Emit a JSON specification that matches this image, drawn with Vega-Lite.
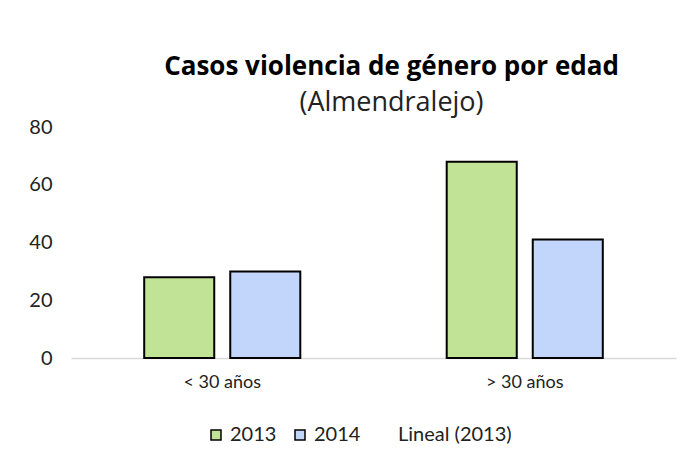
{
  "$schema": "https://vega.github.io/schema/vega-lite/v6.json",
  "width": 605,
  "height": 231,
  "autosize": {"type": "none"},
  "padding": {"left": 71, "top": 127, "right": 16, "bottom": 108},
  "background": "white",
  "config": {
    "view": {"stroke": null},
    "font": "Lato"
  },
  "title": {
    "text": "Casos violencia de género por edad",
    "subtitle": "(Almendralejo)",
    "font": "Open Sans",
    "fontSize": 26,
    "fontWeight": "bold",
    "color": "#000000",
    "subtitleFont": "Open Sans",
    "subtitleFontSize": 27,
    "subtitleFontWeight": "normal",
    "subtitleColor": "#222222",
    "subtitlePadding": 10,
    "anchor": "middle",
    "dx": 18,
    "offset": 1
  },
  "data": {
    "values": [
      {"grupo": "< 30 años", "anio": "2013", "casos": 28},
      {"grupo": "< 30 años", "anio": "2014", "casos": 30},
      {"grupo": "> 30 años", "anio": "2013", "casos": 68},
      {"grupo": "> 30 años", "anio": "2014", "casos": 41}
    ]
  },
  "mark": {"type": "bar", "stroke": "#000000", "strokeWidth": 2},
  "encoding": {
    "x": {
      "field": "grupo",
      "type": "nominal",
      "sort": ["< 30 años", "> 30 años"],
      "scale": {"paddingInner": 0.484, "paddingOuter": 0.242},
      "axis": {
        "title": null,
        "labelAngle": 0,
        "ticks": false,
        "domainColor": "#D9D9D9",
        "domainWidth": 1.5,
        "labelFontSize": 18,
        "labelColor": "#222222",
        "labelPadding": 15
      }
    },
    "xOffset": {
      "field": "anio",
      "type": "nominal",
      "scale": {"paddingInner": 0.186, "paddingOuter": 0}
    },
    "y": {
      "field": "casos",
      "type": "quantitative",
      "scale": {"domain": [0, 80], "nice": false},
      "axis": {
        "title": null,
        "values": [0, 20, 40, 60, 80],
        "grid": false,
        "domain": false,
        "ticks": false,
        "labelFontSize": 20,
        "labelColor": "#222222",
        "labelPadding": 19
      }
    },
    "color": {
      "field": "anio",
      "type": "nominal",
      "scale": {
        "domain": ["2013", "2014", "Lineal (2013)"],
        "range": ["#C1E395", "#C2D5FB", "#FFFFFF"]
      },
      "legend": {
        "title": null,
        "orient": "none",
        "legendX": 135,
        "legendY": 298,
        "direction": "horizontal",
        "symbolType": "square",
        "symbolSize": 100,
        "symbolStrokeWidth": 1.5,
        "labelFontSize": 20,
        "labelColor": "#222222",
        "labelOffset": 4,
        "columnPadding": 13,
        "encoding": {
          "symbols": {
            "opacity": {"value": {"expr": "datum.value === 'Lineal (2013)' ? 0 : 1"}}
          }
        }
      }
    }
  }
}
